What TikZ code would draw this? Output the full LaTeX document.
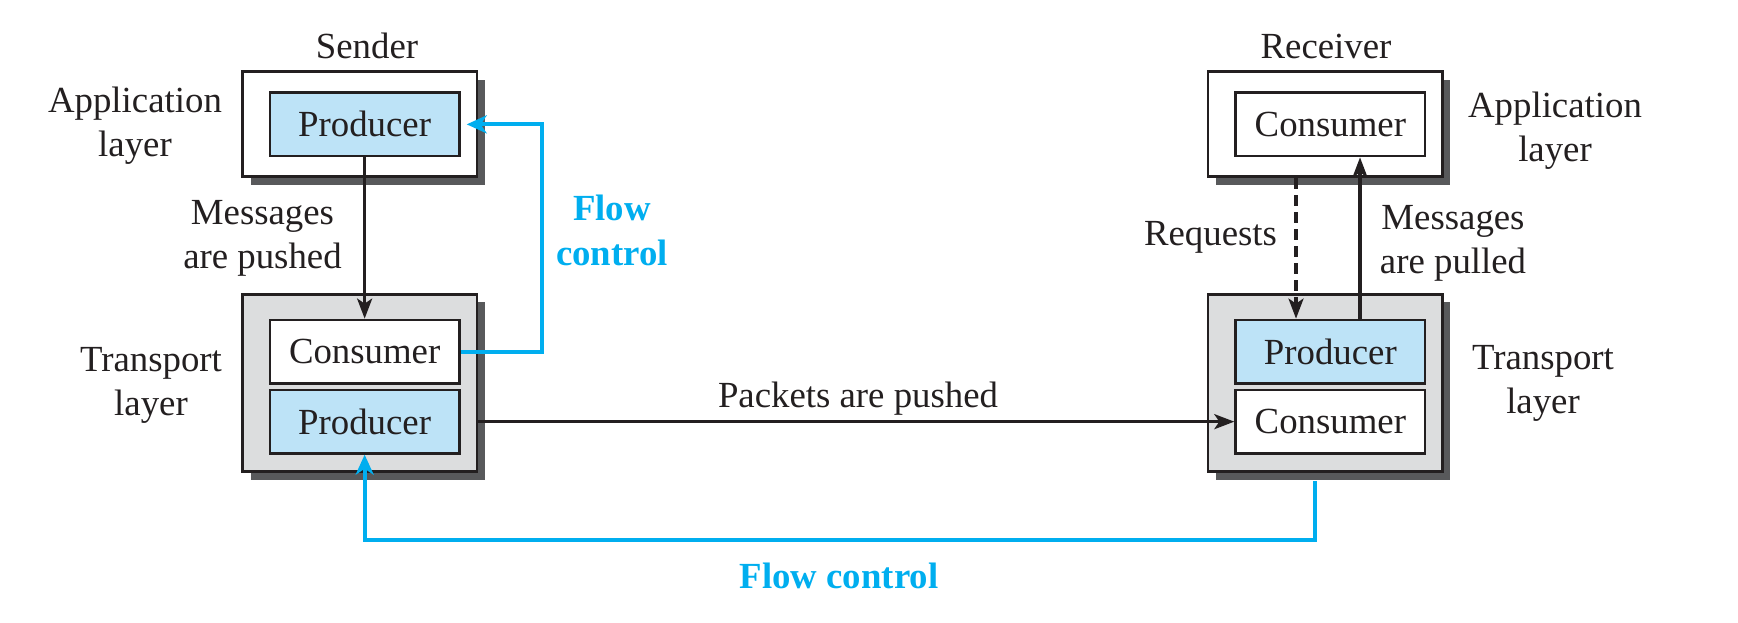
\documentclass[tikz,border=0pt]{standalone}
\usepackage{fontspec}
\setmainfont{Liberation Serif}
\usetikzlibrary{arrows.meta,shadows}
\definecolor{fcblue}{RGB}{0,174,239}
\definecolor{lblue}{RGB}{189,227,247}
\definecolor{boxgray}{RGB}{220,221,222}
\definecolor{shadowgray}{RGB}{88,89,91}
\definecolor{ink}{RGB}{35,31,32}
\begin{document}
\begin{tikzpicture}[x=0.5pt,y=-0.5pt,
  txt/.style={font=\fontsize{18.4}{22}\selectfont, text=ink, inner sep=0pt},
  lbl/.style={txt, align=center, anchor=base},
  flowlbl/.style={lbl, font=\fontsize{18.4}{22.5}\selectfont\bfseries, text=fcblue},
  outerbox/.style={draw=ink, line width=1.4pt, minimum width=117.15pt, inner sep=0pt,
    drop shadow={shadow xshift=4pt, shadow yshift=-4pt, fill=shadowgray, opacity=1}},
  innerbox/.style={txt, draw=ink, line width=1.4pt, minimum width=94.65pt, minimum height=31.65pt},
  blk/.style={draw=ink, line width=1.6pt, -{Stealth[length=10pt, width=7.5pt, inset=2.5pt]}},
  flow/.style={draw=fcblue, line width=2pt, -{Stealth[length=10pt, width=9pt, inset=3pt]}}
]
\useasboundingbox (0,0) rectangle (1738,622);
% Sender
\node[outerbox, fill=white, minimum height=52.5pt] (la) at (359.85,124.2) {};
\node[innerbox, fill=lblue] (lap) at (364.65,124.35) {Producer};
\node[outerbox, fill=boxgray, minimum height=88.7pt] (lt) at (359.85,383) {};
\node[innerbox, fill=white] (ltc) at (364.65,351.65) {Consumer};
\node[innerbox, fill=lblue] (ltp) at (364.65,421.65) {Producer};
% Receiver
\node[outerbox, fill=white, minimum height=52.5pt] (ra) at (1325.2,124.2) {};
\node[innerbox, fill=white] (rac) at (1330.35,124.35) {Consumer};
\node[outerbox, fill=boxgray, minimum height=88.7pt] (rt) at (1325.2,383) {};
\node[innerbox, fill=lblue] (rtp) at (1330.35,351.65) {Producer};
\node[innerbox, fill=white] (rtc) at (1330.35,421.65) {Consumer};
% labels (anchor base = baseline of the last line)
\node[lbl] (sender) at (367,58) {Sender};
\node[lbl] (receiver) at (1326,58) {Receiver};
\node[lbl] (lappl) at (135,156) {Application\\layer};
\node[lbl] (rappl) at (1555,161) {Application\\layer};
\node[lbl] (ltrl) at (151,415) {Transport\\layer};
\node[lbl] (rtrl) at (1543,413) {Transport\\layer};
\node[lbl] (mpush) at (262.5,268) {Messages\\are pushed};
\node[lbl] (mpull) at (1453,273) {Messages\\are pulled};
\node[lbl] (req) at (1210.5,245) {Requests};
\node[lbl] (ppush) at (858,407) {Packets are pushed};
\node[flowlbl] (fc1) at (612,265) {Flow\\control};
\node[flowlbl] (fc2) at (839,588) {Flow control};
% helper coordinates
\coordinate (fx) at (542,0);
\coordinate (dx) at (1296,0);
\coordinate (ux) at (1360,0);
\coordinate (bx) at (1315,0);
\coordinate (by) at (0,540);
% connectors
\draw[blk] (lap.south) -- (ltc.north);
\draw[blk] (lt.east |- ltp.east) -- (rtc.west);
\draw[blk, dash pattern=on 5.5pt off 3pt] (dx |- ra.south) -- (dx |- rtp.north);
\draw[blk] (ux |- rtp.north) -- (ux |- rac.south);
\draw[flow, shorten >=3pt] (ltc.east) -- (fx |- ltc.east) |- (lap.east);
\draw[flow] ([yshift=-4pt]bx |- rt.south) |- (ltp.south |- by) -- (ltp.south);
\end{tikzpicture}
\end{document}
